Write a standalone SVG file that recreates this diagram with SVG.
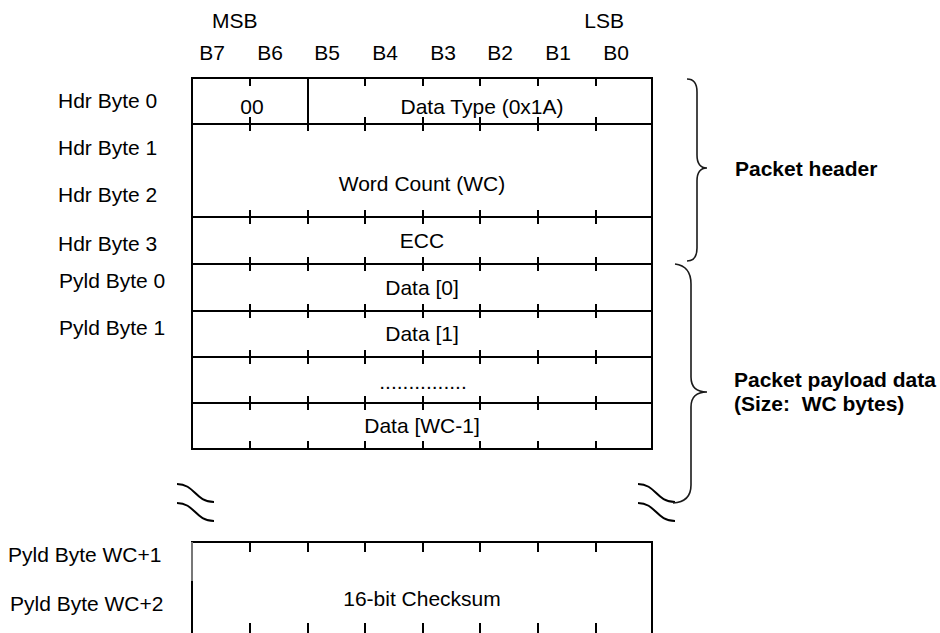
<svg xmlns="http://www.w3.org/2000/svg" xmlns:xlink="http://www.w3.org/1999/xlink" width="940" height="633" viewBox="0 0 940 633">
<style>
.ln{stroke:#000;stroke-width:2;fill:none}
.br{stroke:#1a1a1a;stroke-width:1.6;fill:none}
.t{font-family:"Liberation Sans",Arial,Helvetica,sans-serif;font-size:21px;fill:#000}
.c{text-anchor:middle}
.b{font-weight:bold}
</style>
<defs>
<path id="tkD" class="ln" d="M250,0v8M308,0v8M365,0v8M423,0v8M480,0v8M538,0v8M596,0v8"/>
<path id="tkU" class="ln" d="M250,0v-8M308,0v-8M365,0v-8M423,0v-8M480,0v-8M538,0v-8M596,0v-8"/>
<path id="tkB" class="ln" d="M250,-7v14M308,-7v14M365,-7v14M423,-7v14M480,-7v14M538,-7v14M596,-7v14"/>
<path id="wave" class="ln" d="M0,0C18,0 18,18 37,18M0,19C18,19 18,37 37,37"/>
</defs>
<rect width="940" height="633" fill="#fff"/>
<g id="bit-labels">
<text class="t" x="212" y="28">MSB</text>
<text class="t" x="624" y="28" text-anchor="end">LSB</text>
<text class="t c" x="212" y="60">B7</text>
<text class="t c" x="270" y="60">B6</text>
<text class="t c" x="327" y="60">B5</text>
<text class="t c" x="385" y="60">B4</text>
<text class="t c" x="443" y="60">B3</text>
<text class="t c" x="500" y="60">B2</text>
<text class="t c" x="558" y="60">B1</text>
<text class="t c" x="616" y="60">B0</text>
</g>
<g id="byte-labels">
<text class="t" x="58" y="108">Hdr Byte 0</text>
<text class="t" x="58" y="155">Hdr Byte 1</text>
<text class="t" x="58" y="202">Hdr Byte 2</text>
<text class="t" x="58" y="251">Hdr Byte 3</text>
<text class="t" x="59" y="288">Pyld Byte 0</text>
<text class="t" x="59" y="335">Pyld Byte 1</text>
<text class="t" x="8" y="562">Pyld Byte WC+1</text>
<text class="t" x="10" y="611">Pyld Byte WC+2</text>
</g>
<g id="packet-box">
<rect class="ln" x="192" y="78" width="460" height="371"/>
<path class="ln" d="M192,124H652M192,217H652M192,264H652M192,311H652M192,357H652M192,403H652"/>
<use xlink:href="#tkD" y="78"/>
<use xlink:href="#tkB" y="124"/>
<use xlink:href="#tkB" y="217"/>
<use xlink:href="#tkB" y="264"/>
<use xlink:href="#tkB" y="311"/>
<use xlink:href="#tkB" y="357"/>
<use xlink:href="#tkB" y="403"/>
<use xlink:href="#tkU" y="449"/>
</g>
<g id="hdr-byte0">
<path class="ln" d="M308,78V131"/>
<text class="t c" x="252" y="114">00</text>
<text class="t c" x="482" y="114">Data Type (0x1A)</text>
</g>
<g id="word-count"><text class="t c" x="422" y="191">Word Count (WC)</text></g>
<g id="ecc"><text class="t c" x="422" y="248">ECC</text></g>
<g id="data0"><text class="t c" x="422" y="295">Data [0]</text></g>
<g id="data1"><text class="t c" x="422" y="341">Data [1]</text></g>
<g id="dots"><text class="t c" x="423" y="389">...............</text></g>
<g id="data-wc1"><text class="t c" x="422" y="433">Data [WC-1]</text></g>
<g id="breaks">
<use xlink:href="#wave" x="177" y="484"/>
<use xlink:href="#wave" x="638" y="484"/>
</g>
<g id="checksum">
<path class="ln" d="M191,542H652M652,541V633M250,542v10M308,542v10M365,542v10M423,542v10M480,542v10M538,542v10M596,542v10M250,633v-10M308,633v-10M365,633v-10M423,633v-10M480,633v-10M538,633v-10M596,633v-10"/>
<path d="M192,542V581" stroke="#777" stroke-width="2" fill="none"/>
<path class="ln" d="M192,581V633"/>
<text class="t c" x="422" y="606">16-bit Checksum</text>
</g>
<g id="connectors">
<path class="br" d="M687,79Q697,79 697,92L697,155Q697,168 707,168Q697,168 697,181L697,248Q697,261 687,261"/>
<path class="br" d="M675,264Q691,266 691,284L691,377Q691,392 707,392Q691,392 691,407L691,485Q691,502 673,503"/>
</g>
<g id="group-labels">
<text class="t b" x="735" y="176">Packet header</text>
<text class="t b" x="734" y="387">Packet payload data</text>
<text class="t b" x="734" y="411" xml:space="preserve">(Size:  WC bytes)</text>
</g>
</svg>
